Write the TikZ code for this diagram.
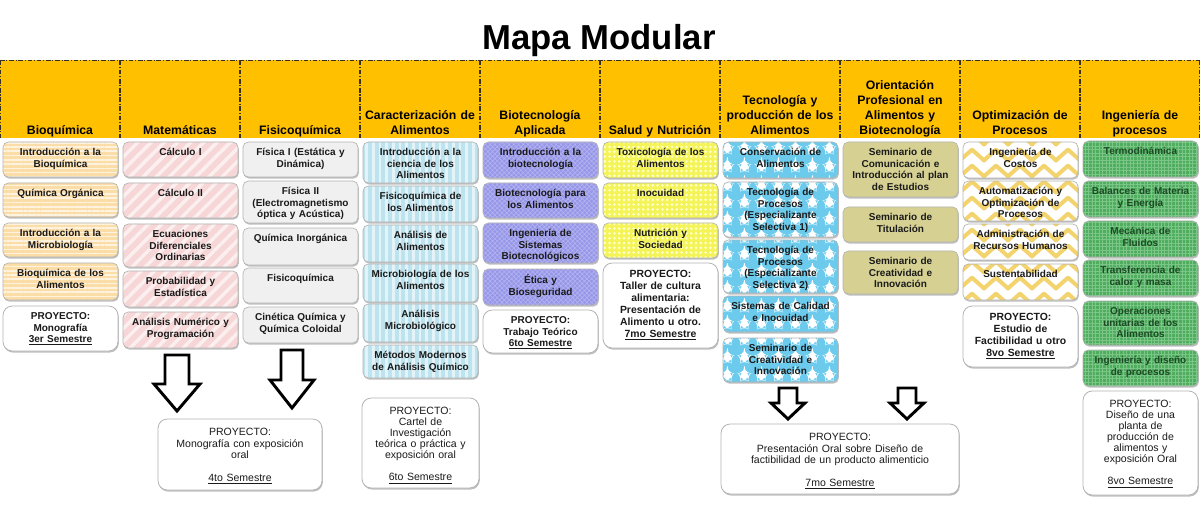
\documentclass[tikz,border=0pt]{standalone}
\usepackage{fontspec}
\setmainfont{Liberation Sans}
\usetikzlibrary{patterns,patterns.meta,shadows}

\definecolor{hdr}{HTML}{FFC000}
\definecolor{dashC}{HTML}{3A3020}
\definecolor{bioqC}{HTML}{FBDDA8}
\definecolor{bioqL}{HTML}{FEF3E0}
\definecolor{mateC}{HTML}{F6D6D6}
\definecolor{mateL}{HTML}{FCEFEF}
\definecolor{fisiC}{HTML}{F0F0F0}
\definecolor{caraC}{HTML}{BDE3EE}
\definecolor{caraL}{HTML}{E3F3F8}
\definecolor{biotC}{HTML}{9696E8}
\definecolor{biotL}{HTML}{B2B2F0}
\definecolor{saluC}{HTML}{F4F458}
\definecolor{saluL}{HTML}{FFFFC8}
\definecolor{tecnC}{HTML}{6CCBEC}
\definecolor{orieC}{HTML}{D6D193}
\definecolor{optiC}{HTML}{F2D36E}
\definecolor{ingpC}{HTML}{4FAE5D}
\definecolor{ingpL}{HTML}{7CC68A}
\definecolor{ingpT}{HTML}{1C4A24}
\definecolor{txtC}{HTML}{1A1A1A}
\definecolor{edgeC}{HTML}{B4B4B4}

\pgfdeclarepatternformonly{zigzag}{\pgfpoint{-2pt}{-2pt}}{\pgfpoint{20pt}{14pt}}{\pgfpoint{18pt}{12pt}}{%
  \pgfsetlinewidth{3pt}\pgfsetroundcap\pgfsetroundjoin
  \pgfpathmoveto{\pgfpoint{0pt}{2pt}}%
  \pgfpathlineto{\pgfpoint{9pt}{10pt}}%
  \pgfpathlineto{\pgfpoint{18pt}{2pt}}%
  \pgfusepath{stroke}}

\tikzset{
  cbase/.style={rectangle, rounded corners=4pt, draw=edgeC, line width=0.5pt, inner sep=0pt,
    drop shadow={shadow xshift=0.6pt, shadow yshift=-1.2pt, opacity=0.25, fill=black}},
  bioq/.style={cbase, preaction={fill=bioqC}, pattern={Lines[angle=0,distance=3.2pt,line width=1.2pt]}, pattern color=bioqL},
  mate/.style={cbase, preaction={fill=mateC}, pattern={Lines[angle=45,distance=7pt,line width=2.6pt]}, pattern color=mateL},
  fisi/.style={cbase, fill=fisiC},
  cara/.style={cbase, preaction={fill=caraC}, pattern={Lines[angle=90,distance=5pt,line width=1.8pt]}, pattern color=caraL},
  biot/.style={cbase, preaction={fill=biotC}, pattern={Hatch[angle=45,distance=2.5pt,line width=0.5pt]}, pattern color=biotL},
  salu/.style={cbase, preaction={fill=saluC}, pattern={Dots[radius=1.1pt,distance=3.6pt]}, pattern color=saluL},
  tecn/.style={cbase, preaction={fill=tecnC}, pattern={Stars[radius=5pt,points=5,distance=13pt]}, pattern color=white},
  orie/.style={cbase, fill=orieC},
  opti/.style={cbase, preaction={fill=white}, pattern=zigzag, pattern color=optiC},
  ingp/.style={cbase, preaction={fill=ingpC}, pattern={Hatch[angle=0,distance=2.6pt,line width=0.5pt]}, pattern color=ingpL},
  pbox/.style={rectangle, rounded corners=7pt, draw=edgeC, line width=0.6pt, inner sep=0pt, fill=white,
    drop shadow={shadow xshift=0.6pt, shadow yshift=-1.2pt, opacity=0.25, fill=black}},
  txt/.style={font=\fontsize{7.5}{8.6}\selectfont\bfseries, text=txtC, text width=100pt, align=center,
    inner sep=0pt, anchor=north, execute at begin node=\strut},
  txtL/.style={txt, font=\fontsize{7.8}{9}\selectfont\bfseries},
  gtxt/.style={txt, text=ingpT},
  btxt/.style={font=\fontsize{7.9}{8.3}\selectfont, text=txtC, text width=180pt, align=center,
    inner sep=0pt, anchor=north, yshift=-2.2pt, execute at begin node=\strut},
  htxt/.style={font=\fontsize{9.2}{11.25}\selectfont\bfseries, text=black, text width=100pt, align=center,
    inner sep=0pt, anchor=south, execute at end node=\strut},
  hcell/.style={rectangle, fill=hdr, inner sep=0pt, minimum width=90pt, minimum height=58.5pt},
  ddash/.style={draw=dashC, line width=0.9pt, dash pattern=on 3.5pt off 1.3pt on 0.8pt off 1.3pt},
  barrow/.style={draw=black, fill=white, line width=2.2pt, line join=miter},
}

% name, box style, text style, x1, y1, x2, y2, text
\newcommand{\cellbox}[8]{%
  \node[#2, minimum width={(#6-#4)*0.75pt}, minimum height={(#7-#5)*0.75pt}] (#1) at ({(#4+#6)/2},{(#5+#7)/2}) {};
  \node[#3] (#1-t) at ({(#4+#6)/2},{#5+5.5}) {#8};
}
% cx, top, headstart, tip, shaft half width, head half width
\newcommand{\blockarrow}[6]{%
  \draw[barrow] (#1-#5,#2) -- (#1+#5,#2) -- (#1+#5,#3) -- (#1+#6,#3) -- (#1,#4) -- (#1-#6,#3) -- (#1-#5,#3) -- cycle;
}

\begin{document}
\begin{tikzpicture}[x=0.75pt, y=-0.75pt]
\useasboundingbox (0,0) rectangle (1200,531);
\fill[white] (0,0) rectangle (1200,531);

\node[font=\fontsize{26}{30}\selectfont\bfseries, anchor=base, inner sep=0pt] (title) at (599,50) {Mapa Modular};

% header cells
\foreach \i in {0,...,9} {
  \node[hcell] (h\i) at ({120*\i+60},99) {};
}
\draw[ddash] (0,60.5) -- (1200,60.5);
\foreach \i in {0,...,10} {
  \draw[ddash] ({min(max(120*\i,0.5),1199.5)},60.5) -- ({min(max(120*\i,0.5),1199.5)},138);
}

\node[htxt] (ht0) at (60,139) {Bioquímica};
\node[htxt] (ht1) at (180,139) {Matemáticas};
\node[htxt] (ht2) at (300,139) {Fisicoquímica};
\node[htxt] (ht3) at (420,139) {Caracterización de\\Alimentos};
\node[htxt] (ht4) at (540,139) {Biotecnología\\Aplicada};
\node[htxt] (ht5) at (660,139) {Salud y Nutrición};
\node[htxt] (ht6) at (780,139) {Tecnología y\\producción de los\\Alimentos};
\node[htxt] (ht7) at (900,139) {Orientación\\Profesional en\\Alimentos y\\Biotecnología};
\node[htxt] (ht8) at (1020,139) {Optimización de\\Procesos};
\node[htxt] (ht9) at (1140,139) {Ingeniería de\\procesos};

% Column 1
\cellbox{bq1}{bioq}{txt}{3}{142}{118}{177}{Introducción a la\\Bioquímica}
\cellbox{bq2}{bioq}{txt}{3}{183}{118}{217}{Química Orgánica}
\cellbox{bq3}{bioq}{txt}{3}{223}{118}{257}{Introducción a la\\Microbiología}
\cellbox{bq4}{bioq}{txt}{3}{263}{118}{300}{Bioquímica de los\\Alimentos}
\cellbox{bqp}{pbox}{txt}{3}{306}{118}{351}{PROYECTO:\\Monografía\\\underline{3er Semestre}}

% Column 2
\cellbox{ma1}{mate}{txt}{123}{142}{238}{177}{Cálculo I}
\cellbox{ma2}{mate}{txt}{123}{183}{238}{218}{Cálculo II}
\cellbox{ma3}{mate}{txt}{123}{224}{238}{267}{Ecuaciones\\Diferenciales\\Ordinarias}
\cellbox{ma4}{mate}{txt}{123}{271}{238}{307}{Probabilidad y\\Estadística}
\cellbox{ma5}{mate}{txt}{123}{312}{238}{348}{Análisis Numérico y\\Programación}

% Column 3
\cellbox{fq1}{fisi}{txt}{243}{142}{358}{177}{Física I (Estática y\\Dinámica)}
\cellbox{fq2}{fisi}{txt}{243}{181}{358}{223}{Física II\\(Electromagnetismo\\óptica y Acústica)}
\cellbox{fq3}{fisi}{txt}{243}{228}{358}{265}{Química Inorgánica}
\cellbox{fq4}{fisi}{txt}{243}{268}{358}{303}{Fisicoquímica}
\cellbox{fq5}{fisi}{txt}{243}{307}{358}{343}{Cinética Química y\\Química Coloidal}

% Column 4
\cellbox{ca1}{cara}{txt}{363}{142}{478}{183}{Introducción a la\\ciencia de los\\Alimentos}
\cellbox{ca2}{cara}{txt}{363}{186}{478}{222}{Fisicoquímica de\\los Alimentos}
\cellbox{ca3}{cara}{txt}{363}{225}{478}{262}{Análisis de\\Alimentos}
\cellbox{ca4}{cara}{txt}{363}{264}{478}{302}{Microbiología de los\\Alimentos}
\cellbox{ca5}{cara}{txt}{363}{304}{478}{342}{Análisis\\Microbiológico}
\cellbox{ca6}{cara}{txt}{363}{345}{478}{378}{Métodos Modernos\\de Análisis Químico}
\cellbox{cap}{pbox}{btxt}{362}{398}{479}{488}{PROYECTO:\\Cartel de\\Investigación\\teórica o práctica y\\exposición oral\\[8.3pt]\underline{6to Semestre}}

% Column 5
\cellbox{bt1}{biot}{txt}{483}{142}{598}{178}{Introducción a la\\biotecnología}
\cellbox{bt2}{biot}{txt}{483}{183}{598}{218}{Biotecnología para\\los Alimentos}
\cellbox{bt3}{biot}{txt}{483}{223}{598}{263}{Ingeniería de\\Sistemas\\Biotecnológicos}
\cellbox{bt4}{biot}{txt}{483}{269}{598}{305}{Ética y\\Bioseguridad}
\cellbox{btp}{pbox}{txt}{483}{310}{598}{353}{PROYECTO:\\Trabajo Teórico\\\underline{6to Semestre}}

% Column 6
\cellbox{sn1}{salu}{txt}{603}{142}{718}{178}{Toxicología de los\\Alimentos}
\cellbox{sn2}{salu}{txt}{603}{183}{718}{218}{Inocuidad}
\cellbox{sn3}{salu}{txt}{603}{223}{718}{258}{Nutrición y\\Sociedad}
\cellbox{snp}{pbox}{txtL}{603}{263}{718}{348}{PROYECTO:\\Taller de cultura\\alimentaria:\\Presentación de\\Alimento u otro.\\\underline{7mo Semestre}}

% Column 7
\cellbox{tp1}{tecn}{txt}{723}{142}{838}{178}{Conservación de\\Alimentos}
\cellbox{tp2}{tecn}{txt}{723}{182}{838}{237}{Tecnología de\\Procesos\\(Especializante\\Selectiva 1)}
\cellbox{tp3}{tecn}{txt}{723}{240}{838}{293}{Tecnología de\\Procesos\\(Especializante\\Selectiva 2)}
\cellbox{tp4}{tecn}{txt}{723}{296}{838}{332}{Sistemas de Calidad\\e Inocuidad}
\cellbox{tp5}{tecn}{txt}{723}{338}{838}{382}{Seminario de\\Creatividad e\\Innovación}

% Column 8
\cellbox{op1}{orie}{txt}{843}{142}{958}{197}{Seminario de\\Comunicación e\\Introducción al plan\\de Estudios}
\cellbox{op2}{orie}{txt}{843}{207}{958}{242}{Seminario de\\Titulación}
\cellbox{op3}{orie}{txt}{843}{251}{958}{294}{Seminario de\\Creatividad e\\Innovación}

% Column 9
\cellbox{oz1}{opti}{txt}{963}{142}{1078}{178}{Ingeniería de\\Costos}
\cellbox{oz2}{opti}{txt}{963}{181}{1078}{221}{Automatización y\\Optimización de\\Procesos}
\cellbox{oz3}{opti}{txt}{963}{224}{1078}{260}{Administración de\\Recursos Humanos}
\cellbox{oz4}{opti}{txt}{963}{264}{1078}{300}{Sustentabilidad}
\cellbox{ozp}{pbox}{txtL}{963}{306}{1078}{367}{PROYECTO:\\Estudio de\\Factibilidad u otro\\\underline{8vo Semestre}}

% Column 10
\cellbox{ip1}{ingp}{gtxt}{1083}{141}{1198}{177}{Termodinámica}
\cellbox{ip2}{ingp}{gtxt}{1083}{181}{1198}{217}{Balances de Materia\\y Energía}
\cellbox{ip3}{ingp}{gtxt}{1083}{221}{1198}{257}{Mecánica de\\Fluidos}
\cellbox{ip4}{ingp}{gtxt}{1083}{260}{1198}{296}{Transferencia de\\calor y masa}
\cellbox{ip5}{ingp}{gtxt}{1083}{301}{1198}{345}{Operaciones\\unitarias de los\\Alimentos}
\cellbox{ip6}{ingp}{gtxt}{1083}{350}{1198}{386}{Ingeniería y diseño\\de procesos}
\cellbox{ipp}{pbox}{btxt}{1083}{391}{1198}{495}{PROYECTO:\\Diseño de una\\planta de\\producción de\\alimentos y\\exposición Oral\\[8.3pt]\underline{8vo Semestre}}

% Bottom projects
\cellbox{mfp}{pbox}{btxt}{158}{419}{322}{490}{PROYECTO:\\Monografía con exposición\\oral\\[8.3pt]\underline{4to Semestre}}
\cellbox{tpp}{pbox}{btxt}{721}{424}{959}{494}{PROYECTO:\\Presentación Oral sobre Diseño de\\factibilidad de un producto alimenticio\\[8.3pt]\underline{7mo Semestre}}

% block arrows
\blockarrow{177}{355}{384}{411}{12}{23}
\blockarrow{292}{350}{380}{408}{11}{22}
\blockarrow{788}{388}{403}{419}{9}{17}
\blockarrow{907}{388}{403}{419}{9}{17}
\end{tikzpicture}
\end{document}
